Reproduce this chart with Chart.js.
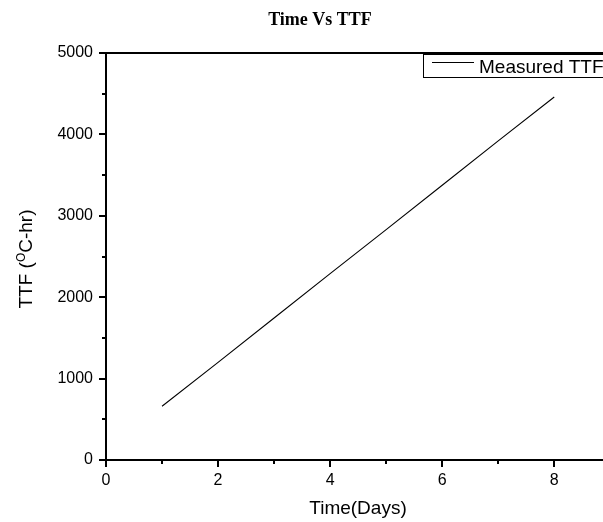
<!DOCTYPE html>
<html>
<head>
<meta charset="utf-8">
<script src="https://cdn.jsdelivr.net/npm/chart.js@4/dist/chart.umd.min.js"></script>
<style>
  html, body { margin: 0; padding: 0; background: #fff; }
  #wrap { width: 603px; height: 522px; }
</style>
</head>
<body>
<div id="wrap"><canvas id="c" width="603" height="522"></canvas></div>
<script>
// ---- data ----
const days = [1, 2, 3, 4, 5, 6, 7, 8];
const measuredTTF = [660, 1200, 1745, 2290, 2830, 3375, 3920, 4460];
const seriesLabel = 'Measured TTF';
const chartTitle = 'Time Vs TTF';
const xAxisTitle = 'Time(Days)';
const yAxisTitleParts = ['TTF (', 'O', 'C-hr)'];
const xLabelledTicks = [0, 2, 4, 6, 8];
const yLabelledTicks = [0, 1000, 2000, 3000, 4000, 5000];

const FONT = '"Liberation Sans", Arial, sans-serif';

const decor = {
  id: 'decor',
  afterDraw(chart) {
    const ctx = chart.ctx;
    const a = chart.chartArea;
    const xs = chart.scales.x, ys = chart.scales.y;
    ctx.save();
    ctx.strokeStyle = '#000';
    ctx.fillStyle = '#000';
    // top frame line
    ctx.lineWidth = 2;
    ctx.beginPath();
    ctx.moveTo(a.left - 1, a.top);
    ctx.lineTo(a.right, a.top);
    ctx.stroke();
    // minor ticks
    ctx.lineWidth = 2;
    ctx.beginPath();
    xs.ticks.forEach(t => {
      if (!xLabelledTicks.includes(t.value)) {
        const px = Math.round(xs.getPixelForValue(t.value));
        ctx.moveTo(px, a.bottom);
        ctx.lineTo(px, a.bottom + 4);
      }
    });
    ys.ticks.forEach(t => {
      if (!yLabelledTicks.includes(t.value)) {
        const py = Math.round(ys.getPixelForValue(t.value));
        ctx.moveTo(a.left, py);
        ctx.lineTo(a.left - 4, py);
      }
    });
    ctx.stroke();

    // title
    ctx.font = 'bold 18px "Liberation Serif", "Times New Roman", serif';
    ctx.textAlign = 'center';
    ctx.textBaseline = 'middle';
    ctx.fillText(chartTitle, 320, 20);

    // x axis title
    ctx.font = '19px ' + FONT;
    ctx.textAlign = 'center';
    ctx.textBaseline = 'alphabetic';
    ctx.fillText(xAxisTitle, 358, 514);

    // y axis title with superscript
    ctx.save();
    ctx.translate(32, 259);
    ctx.rotate(-Math.PI / 2);
    const big = '19px ' + FONT, small = '12px ' + FONT;
    ctx.font = big; const w1 = ctx.measureText(yAxisTitleParts[0]).width;
    ctx.font = small; const w2 = ctx.measureText(yAxisTitleParts[1]).width;
    ctx.font = big; const w3 = ctx.measureText(yAxisTitleParts[2]).width;
    let x0 = -(w1 + w2 + w3) / 2;
    ctx.textAlign = 'left';
    ctx.textBaseline = 'alphabetic';
    ctx.font = big; ctx.fillText(yAxisTitleParts[0], x0, 0);
    ctx.font = small; ctx.fillText(yAxisTitleParts[1], x0 + w1, -7);
    ctx.font = big; ctx.fillText(yAxisTitleParts[2], x0 + w1 + w2, 0);
    ctx.restore();

    // legend
    ctx.lineWidth = 1;
    ctx.fillStyle = '#fff';
    ctx.fillRect(423.5, 54.5, 200, 23);
    ctx.strokeRect(423.5, 54.5, 200, 23);
    ctx.beginPath();
    ctx.moveTo(432, 62.5);
    ctx.lineTo(474, 62.5);
    ctx.stroke();
    ctx.fillStyle = '#000';
    ctx.font = '19px ' + FONT;
    ctx.textAlign = 'left';
    ctx.textBaseline = 'alphabetic';
    ctx.fillText(chart.data.datasets[0].label, 479, 73);
    ctx.restore();
  }
};

new Chart(document.getElementById('c'), {
  type: 'line',
  data: {
    labels: days,
    datasets: [{
      label: seriesLabel,
      data: days.map((d, i) => ({ x: d, y: measuredTTF[i] })),
      borderColor: '#000',
      borderWidth: 1.1,
      pointRadius: 0,
      fill: false,
      tension: 0
    }]
  },
  options: {
    responsive: false,
    animation: false,
    devicePixelRatio: 1,
    layout: { padding: { left: 0, top: 53, right: 0, bottom: 0 } },
    plugins: { legend: { display: false }, title: { display: false }, tooltip: { enabled: false } },
    scales: {
      x: {
        type: 'linear',
        min: 0,
        max: 8.87,
        afterFit(s) { s.height = 62; },
        border: { display: true, color: '#000', width: 2 },
        grid: {
          drawOnChartArea: false,
          tickLength: 7,
          lineWidth: 2,
          color: c => (c.tick && xLabelledTicks.includes(c.tick.value)) ? '#000' : 'rgba(0,0,0,0)'
        },
        ticks: {
          stepSize: 1,
          includeBounds: false,
          autoSkip: false,
          maxRotation: 0,
          padding: 4,
          color: '#000',
          font: { family: FONT, size: 16 },
          callback: v => xLabelledTicks.includes(v) ? String(v) : ''
        }
      },
      y: {
        type: 'linear',
        min: 0,
        max: 5000,
        afterFit(s) { s.width = 106; },
        border: { display: true, color: '#000', width: 2 },
        grid: {
          drawOnChartArea: false,
          tickLength: 7,
          lineWidth: 2,
          color: c => (c.tick && yLabelledTicks.includes(c.tick.value)) ? '#000' : 'rgba(0,0,0,0)'
        },
        ticks: {
          stepSize: 500,
          autoSkip: false,
          padding: 6,
          color: '#000',
          font: { family: FONT, size: 16 },
          callback: v => yLabelledTicks.includes(v) ? String(v) : ''
        }
      }
    }
  },
  plugins: [decor]
});
</script>
</body>
</html>
